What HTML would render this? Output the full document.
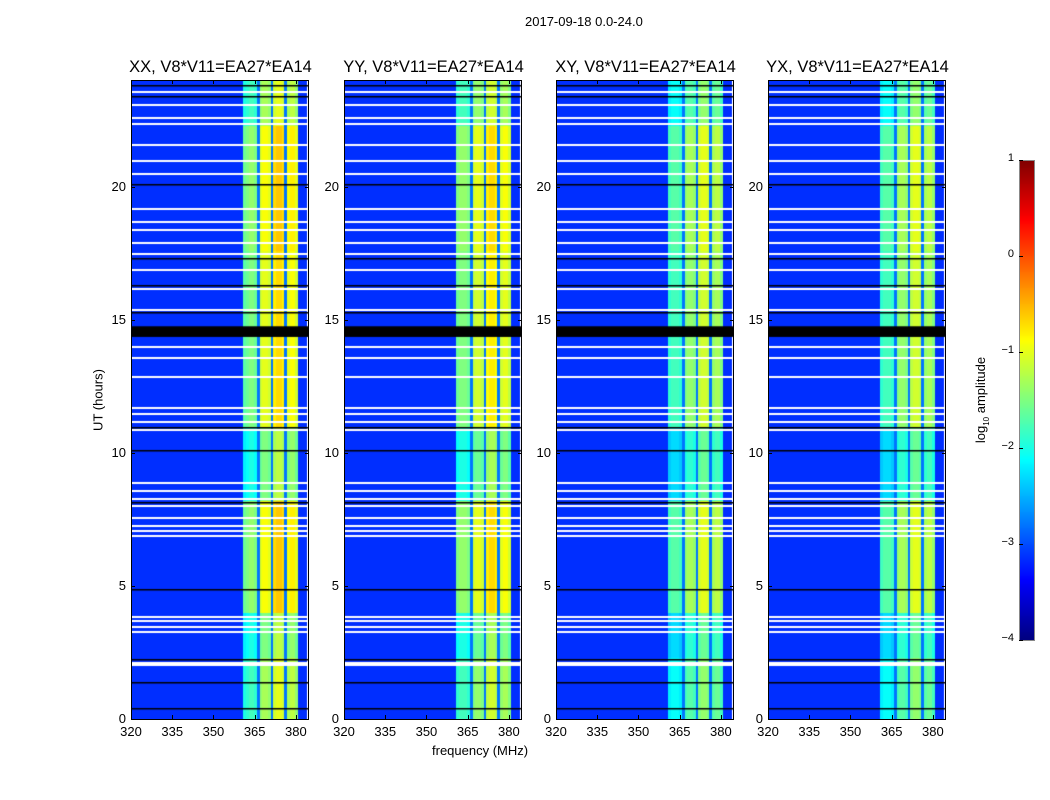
<!DOCTYPE html>
<html><head><meta charset="utf-8"><style>
body{margin:0;background:#fff;width:1050px;height:800px;position:relative;overflow:hidden;font-family:"Liberation Sans",sans-serif;color:#000}
canvas{position:absolute}
.frame{position:absolute;border:1px solid #000;box-sizing:border-box}
.t{position:absolute;font-size:13px;white-space:nowrap}
.ttl{position:absolute;font-size:16.5px;white-space:nowrap;transform:translateX(-50%)}
.tick{position:absolute;background:#000}
</style></head><body>
<div class="t" style="left:525px;top:14px">2017-09-18 0.0-24.0</div>
<div id="root"></div>
<div class="t" style="left:98px;top:400px;transform:translate(-50%,-50%) rotate(-90deg)">UT (hours)</div>
<div class="t" style="left:432px;top:743px">frequency (MHz)</div>
<div class="t" style="left:982px;top:400px;transform:translate(-50%,-50%) rotate(-90deg)">log<sub style="font-size:8px">10</sub> amplitude</div>
<script>
// ---- data ----
const panelTitles=["XX, V8*V11=EA27*EA14","YY, V8*V11=EA27*EA14","XY, V8*V11=EA27*EA14","YX, V8*V11=EA27*EA14"];
const freqBins=[]; for(let f=320;f<384;f++)freqBins.push(f);
// log10 amplitude per 1 MHz bin, band region 361..380
const bandXX=[-1.7,-1.6,-1.5,-1.5,-1.6,-2.8,-1.1,-1.0,-1.0,-1.1,-2.8,-0.8,-0.7,-0.7,-0.8,-2.8,-1.0,-0.9,-0.9,-1.1];
const bandYY=[-1.6,-1.5,-1.5,-1.5,-1.6,-2.8,-1.2,-1.1,-1.1,-1.2,-2.8,-0.9,-0.8,-0.8,-0.9,-2.8,-1.1,-1.0,-1.0,-1.2];
const bandXY=[-1.9,-1.8,-1.8,-1.8,-1.9,-2.8,-1.5,-1.4,-1.4,-1.5,-2.8,-1.2,-1.1,-1.1,-1.2,-2.8,-1.4,-1.3,-1.3,-1.5];
const bandYX=[-1.9,-1.8,-1.8,-1.8,-1.9,-2.8,-1.5,-1.4,-1.4,-1.5,-2.8,-1.2,-1.1,-1.1,-1.2,-2.8,-1.4,-1.3,-1.3,-1.5];
const panelBands=[bandXX,bandYY,bandXY,bandYX];
const bandStart=361, background=-3.15;
// time segments
const segStart=[0,2.3,4.0,8.2,11.0,17.6,22.3];
const segEnd=[2.3,4.0,8.2,11.0,17.6,22.3,24];
const segOffset=[-0.3,-0.5,0.1,-0.5,0.0,0.1,-0.3];
const whiteRows=[2.05,2.15,3.3,3.5,3.7,3.85,6.9,7.1,7.3,7.6,8.05,8.3,8.6,8.9,10.9,11.2,11.5,11.7,12.9,13.6,14.0,15.4,16.2,16.9,17.5,17.9,18.4,18.7,19.2,20.5,21.0,21.6,22.4,22.6,23.1,23.6];
const blackRows=[0.4,1.4,2.25,4.9,8.15,10.1,10.95,15.3,16.3,17.3,20.1,23.4,23.8];
const blackBlockStart=14.35, blackBlockEnd=14.75;
const xTicks=[320,335,350,365,380];
const yTicks=[0,5,10,15,20];
const cbTicks=[1,0,-1,-2,-3,-4];
// ---- layout ----
const lefts=[131,344,556,768], plotTop=80, W=177, H=639;
const fMin=320,fMax=384.4,tMin=0,tMax=24,vMin=-4,vMax=1;
const xs=f=>(f-fMin)/(fMax-fMin)*W, ys=t=>H-(t-tMin)/(tMax-tMin)*H;
function jet(v){let t=(v-vMin)/(vMax-vMin);t=Math.max(0,Math.min(1,t));
 const c=x=>Math.round(255*Math.max(0,Math.min(1,x)));
 return `rgb(${c(1.5-Math.abs(4*t-3))},${c(1.5-Math.abs(4*t-2))},${c(1.5-Math.abs(4*t-1))})`;}
const root=document.getElementById('root');
function mk(tag,cls,name,style,txt){const e=document.createElement(tag);if(cls)e.className=cls;
 
 
 e.style.cssText=style;if(txt!==undefined)e.innerHTML=txt;root.appendChild(e);return e;}
panelBands.forEach((band,p)=>{
 const L=lefts[p];
 const cv=mk('canvas','','heatmap-panel-'+(p+1),`left:${L}px;top:${plotTop}px;width:${W}px;height:${H}px`);
 cv.width=W;cv.height=H;const g=cv.getContext('2d');
 segStart.forEach((s,k)=>{
  freqBins.forEach(f=>{
   const bi=f-bandStart;let v=background;
   if(bi>=0&&bi<band.length){v=band[bi]+(band[bi]>-2.5?segOffset[k]:0);}
   g.fillStyle=jet(v);
   const x0=xs(f),x1=xs(f+1),y0=ys(segEnd[k]),y1=ys(s);
   g.fillRect(Math.floor(x0),Math.floor(y0),Math.ceil(x1)-Math.floor(x0),Math.ceil(y1)-Math.floor(y0));
  });
 });
 g.fillStyle='#fff';whiteRows.forEach(t=>g.fillRect(0,Math.round(ys(t)),W,2));
 g.fillStyle='#000';blackRows.forEach(t=>g.fillRect(0,Math.round(ys(t)),W,1.5));
 g.fillRect(0,ys(blackBlockEnd),W,ys(blackBlockStart)-ys(blackBlockEnd));
 mk('div','frame','axes-frame-'+(p+1),`left:${L}px;top:${plotTop}px;width:${W+1}px;height:${H+1}px`);
 mk('div','ttl','panel-title-'+(p+1),`left:${L+W/2+1}px;top:${plotTop-22}px`,panelTitles[p]);
 xTicks.forEach(f=>{const x=L+xs(f);
  mk('div','tick','x-tick',`left:${x}px;top:${plotTop+H-4}px;width:1px;height:4px`);
  mk('div','tick','x-tick-top',`left:${x}px;top:${plotTop}px;width:1px;height:4px`);
  mk('div','t','x-tick-label',`left:${x}px;top:${plotTop+H+5}px;transform:translateX(-50%)`,f);});
 yTicks.forEach(t=>{const y=plotTop+ys(t);
  mk('div','tick','y-tick',`left:${L}px;top:${y}px;width:4px;height:1px`);
  mk('div','tick','y-tick-right',`left:${L+W-3}px;top:${y}px;width:4px;height:1px`);
  mk('div','t','y-tick-label',`left:${L-5}px;top:${y-8}px;transform:translateX(-100%)`,t);});
});
// colorbar
const cbL=1019,cbT=160,cbW=15,cbH=480;
const cb=mk('canvas','','colorbar',`left:${cbL}px;top:${cbT}px;width:${cbW}px;height:${cbH}px`);
cb.width=cbW;cb.height=cbH;const cg=cb.getContext('2d');
for(let i=0;i<cbH;i++){cg.fillStyle=jet(vMax-(i+0.5)/cbH*(vMax-vMin));cg.fillRect(0,i,cbW,1);}
mk('div','frame','colorbar-frame',`left:${cbL}px;top:${cbT}px;width:${cbW+1}px;height:${cbH+1}px;border-color:#888`);
cbTicks.forEach(v=>{const y=cbT+(vMax-v)/(vMax-vMin)*cbH;
 mk('div','t','colorbar-tick-label',`left:${cbL-5}px;top:${y-8}px;transform:translateX(-100%);font-size:11px`,v<0?'\u2212'+(-v):v);
 mk('div','tick','colorbar-tick',`left:${cbL}px;top:${y}px;width:4px;height:1px`);});
</script>
</body></html>
